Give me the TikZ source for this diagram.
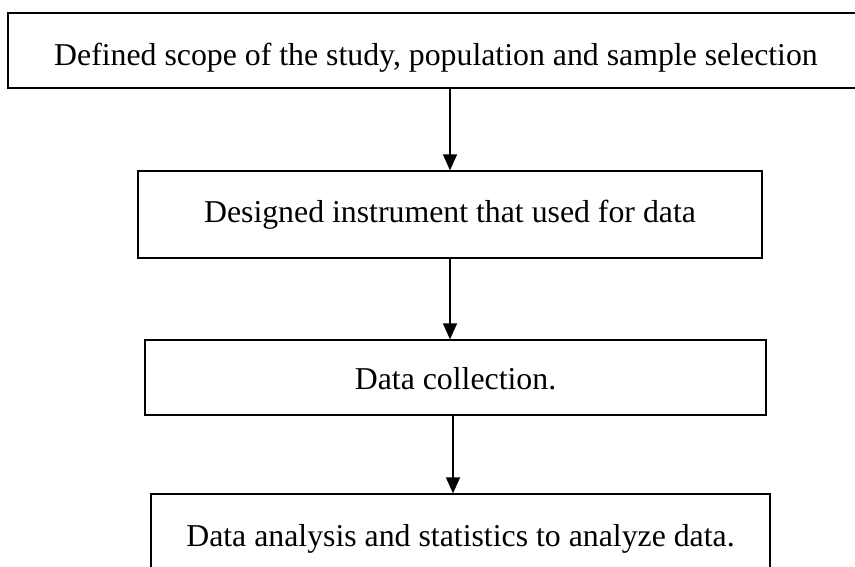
\documentclass[tikz,border=0pt]{standalone}
\usepackage{fontspec}
\setmainfont{Liberation Serif}
\usetikzlibrary{arrows.meta}

\begin{document}
\begin{tikzpicture}[x=1pt,y=-1pt]

            \tikzstyle{stepBox} = [draw, line width=1.3pt, inner sep=0pt, font=\fontsize{31.8}{36}\selectfont];
            \tikzstyle{flowEdge} = [line width=1.3pt, -{Triangle[width=14pt,length=16pt]}];

            \useasboundingbox (0,0) rectangle (855,566);
            \clip (0,0) rectangle (855,566);

            \node[stepBox, minimum width=856pt, minimum height=75pt, text height=37pt, text depth=7pt] (scope) at (436,50.5)
              {Defined scope of the study, population and sample selection};
            \node[stepBox, minimum width=624pt, minimum height=87pt] (instrument) at (450,214.5)
              {Designed instrument that used for data};
            \node[stepBox, minimum width=621pt, minimum height=75pt, text height=31pt, text depth=7pt] (collection) at (455.5,377.5)
              {Data collection.};
            \node[stepBox, minimum width=619pt, minimum height=90pt] (analysis) at (460.5,539)
              {Data analysis and statistics to analyze data.};

            \draw[flowEdge] (instrument.north |- scope.south) -- (instrument.north);
            \draw[flowEdge] (instrument.south) -- (instrument.south |- collection.north);
            \draw[flowEdge] ([xshift=-2.5pt]collection.south) -- ([xshift=-2.5pt]collection.south |- analysis.north);
          \end{tikzpicture}
\end{document}
